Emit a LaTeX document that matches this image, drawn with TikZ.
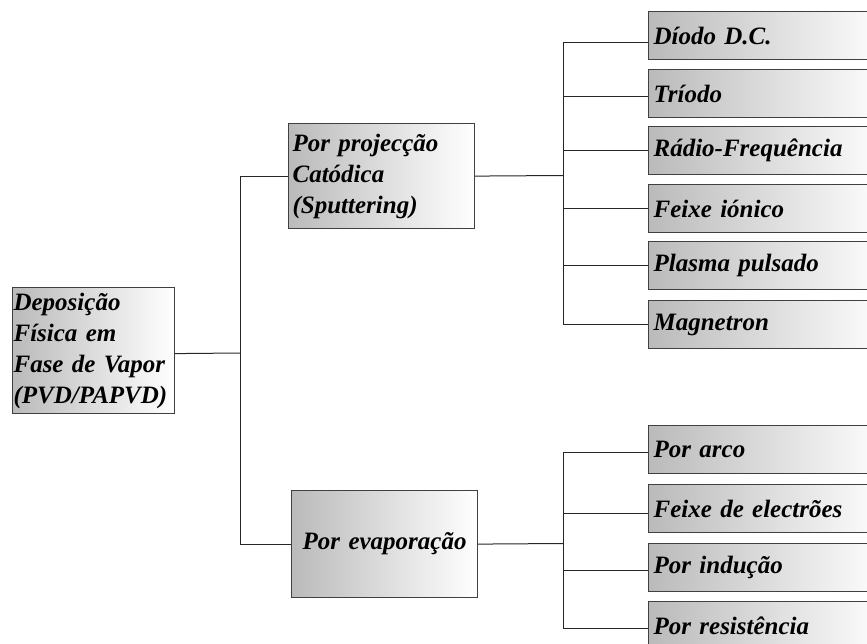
\documentclass[tikz,border=0pt]{standalone}
\usepackage{fontspec}
\setmainfont{Liberation Serif}
\tikzset{
  box/.style={draw=black!75, line width=1.2pt, left color=black!27, right color=white,
    rectangle, anchor=north west, inner ysep=0pt,
    font=\bfseries\itshape\fontsize{25}{31}\selectfont},
  leaf/.style={box, minimum width=240pt, minimum height=48pt, text width=230pt, inner xsep=5pt, align=left},
  wire/.style={draw=black!85, line width=1pt}
}
\begin{document}
\begin{tikzpicture}[x=1pt,y=1pt]
\useasboundingbox (0,0) rectangle (867,-644);
\clip (0,0) rectangle (867,-644);
% main boxes
\node[box, minimum width=162pt, minimum height=126pt, text width=160pt, inner xsep=1pt, align=left] (root) at (12,-287)
  {Deposição\\Física em\\Fase de Vapor\\(PVD/PAPVD)};
\node[box, minimum width=186pt, minimum height=105pt, text width=178pt, inner xsep=4pt, align=left] (sput) at (288,-123)
  {Por projecção\\Catódica\\(Sputtering)};
\node[box, minimum width=186pt, minimum height=107pt, text width=182pt, inner xsep=2pt, align=center] (evap) at (291,-490)
  {Por evaporação};
% leaves
\node[leaf] (d1) at (648,-11) {Díodo D.C.};
\node[leaf] (d2) at (648,-69) {Tríodo};
\node[leaf] (d3) at (648,-126) {Rádio-Frequência};
\node[leaf] (d4) at (648,-184) {Feixe iónico};
\node[leaf] (d5) at (648,-241) {Plasma pulsado};
\node[leaf] (d6) at (648,-300) {Magnetron};
\node[leaf] (e1) at (648,-425) {Por arco};
\node[leaf] (e2) at (648,-484) {Feixe de electrões};
\node[leaf] (e3) at (648,-543) {Por indução};
\node[leaf] (e4) at (648,-601) {Por resistência};
% buses
\coordinate (b1) at (240,-353);
\coordinate (b2) at (563,-175.5);
\coordinate (b3) at (563,-543.5);
\draw[wire] ([yshift=-3pt]root.east) -- (b1);
\draw[wire] (sput.west) -| (b1);
\draw[wire] (evap.west) -| (b1);
\draw[wire] (sput.east) -- (b2);
\draw[wire] (evap.east) -- (b3);
\draw[wire] ([yshift=-7pt]d1.west) -| (b2);
\draw[wire] ([yshift=-2.5pt]d2.west) -| (b2);
\draw[wire] (d3.west) -| (b2);
\draw[wire] (d4.west) -| (b2);
\draw[wire] (d5.west) -| (b2);
\draw[wire] (d6.west) -| (b2);
\draw[wire] ([yshift=-3pt]e1.west) -| (b3);
\draw[wire] ([yshift=-5pt]e2.west) -| (b3);
\draw[wire] ([yshift=-2.5pt]e3.west) -| (b3);
\draw[wire] ([yshift=-3pt]e4.west) -| (b3);
\end{tikzpicture}
\end{document}
